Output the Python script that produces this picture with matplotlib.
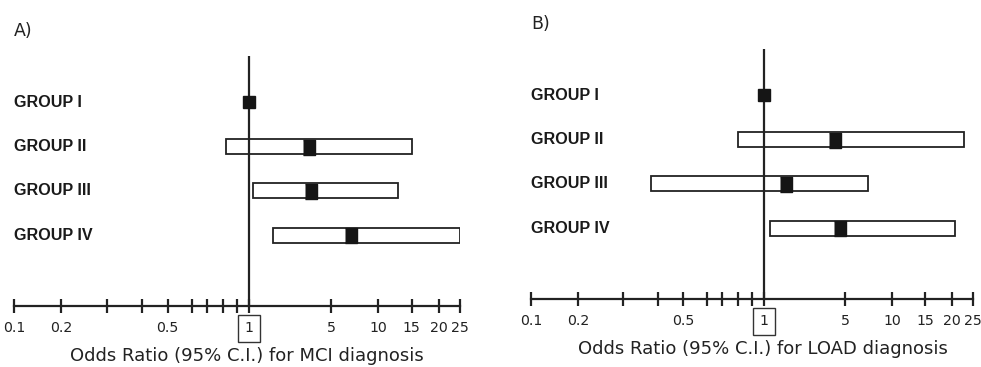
import numpy as np
import matplotlib
matplotlib.use("Agg")
import matplotlib.pyplot as plt

# odds ratio axis: hand-spaced ticks (not a true log scale)
tick_values = [0.1, 0.2, 0.3, 0.4, 0.5, 0.6, 0.7, 0.8, 0.9, 1, 5, 10, 15, 20, 25]
tick_labels = ["0.1", "0.2", "", "", "0.5", "", "", "", "", "1", "5", "10", "15", "20", "25"]
tick_spacing = [0, 47.4, 93.1, 128.4, 153.6, 177.8, 192.9, 209.0, 223.2, 235.3,
                317.0, 364.3, 397.6, 424.8, 446.0]

groups = ["GROUP I", "GROUP II", "GROUP III", "GROUP IV"]

mci_or = [1.0, 3.94, 4.0, 7.07]
mci_lo = [np.nan, 0.82, 1.16, 2.16]
mci_hi = [np.nan, 15.1, 12.9, 25.0]

load_or = [1.0, 4.52, 2.06, 4.75]
load_lo = [np.nan, 0.80, 0.38, 1.30]
load_hi = [np.nan, 22.8, 7.48, 20.8]

pos = np.array(tick_spacing) / tick_spacing[-1]


def fwd(v):
    return np.interp(v, tick_values, pos)


def inv(p):
    return np.interp(p, pos, tick_values)


def draw_panel(ax, orv, lo, hi, letter, xlabel, label_x):
    ax.set_xscale("function", functions=(fwd, inv))
    ax.set_xlim(0.1, 25)
    ax.set_ylim(4.6, -1.05)
    rows = np.arange(len(groups))

    for y, o, l, h in zip(rows, orv, lo, hi):
        if np.isnan(l):
            ax.plot([o], [y], marker="s", ms=9.2, color="#151515", zorder=4)
        else:
            ax.barh(y, h - l, left=l, height=0.34, color="white",
                    edgecolor="#222222", linewidth=1.3, zorder=2)
            ax.plot([o], [y], marker=[(-0.8, -1), (0.8, -1), (0.8, 1), (-0.8, 1)],
                    ms=10.8, color="#151515", zorder=4)

    ax.axvline(1, color="#222222", lw=1.6, zorder=3)

    for y, g in zip(rows, groups):
        ax.text(0, y, g, transform=ax.get_yaxis_transform(), ha="left", va="center",
                fontsize=11.6, fontweight="bold", family="Liberation Sans", color="#1a1a1a")

    for s in ["top", "left", "right"]:
        ax.spines[s].set_visible(False)
    ax.spines["bottom"].set_linewidth(1.6)
    ax.spines["bottom"].set_color("#222222")
    ax.set_yticks([])
    ax.set_xticks(tick_values)
    ax.set_xticklabels(tick_labels)
    ax.minorticks_off()
    ax.tick_params(axis="x", direction="inout", length=10, width=1.6, pad=6,
                   labelsize=10.2, colors="#222222")
    for t in ax.get_xticklabels():
        if t.get_text() == "1":
            t.set_bbox(dict(boxstyle="square,pad=0.45", fc="white", ec="#333333", lw=1))

    ax.set_xlabel(xlabel, fontsize=13, color="#222222")
    ax.xaxis.set_label_coords(label_x, -0.2)
    ax.xaxis.label.set_va("center")
    ax.text(0.0, 1.1, letter, transform=ax.transAxes, fontsize=12.5, color="#222222",
            ha="left", va="center")


fig = plt.figure(figsize=(9.81, 3.67), dpi=100)
W, H = 981, 367
ax_a = fig.add_axes([14 / W, (H - 306) / H, 446 / W, 250 / H])
ax_b = fig.add_axes([531 / W, (H - 299) / H, 442 / W, 250 / H])

draw_panel(ax_a, mci_or, mci_lo, mci_hi, "A)", "Odds Ratio (95% C.I.) for MCI diagnosis", 0.522)
draw_panel(ax_b, load_or, load_lo, load_hi, "B)", "Odds Ratio (95% C.I.) for LOAD diagnosis", 0.524)

fig.savefig("out.png", dpi=100)
